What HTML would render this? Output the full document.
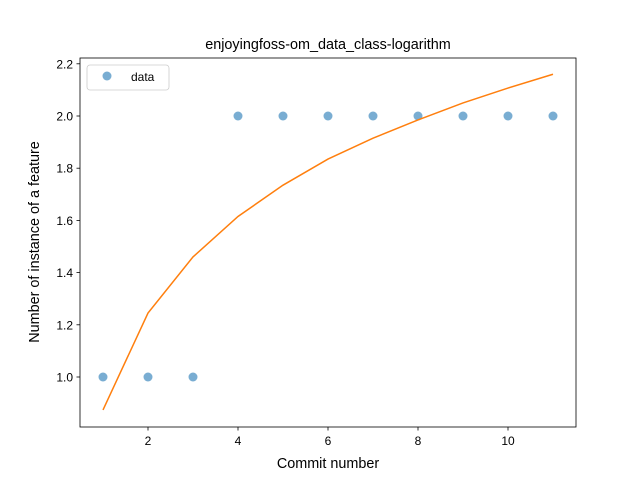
<!DOCTYPE html>
<html><head><meta charset="utf-8"><style>
body{margin:0;background:#fff;}
svg{font-family:"Liberation Sans","DejaVu Sans",sans-serif;}
</style></head><body>
<svg id="chart" width="640" height="480" xmlns="http://www.w3.org/2000/svg">
<rect x="0" y="0" width="640" height="480" fill="#fff"/>
<text x="328" y="49" text-anchor="middle" font-size="14.4">enjoyingfoss-om_data_class-logarithm</text>
<g id="ticks"></g>
<g id="marks"></g>
<rect x="80" y="58" width="496" height="369" fill="none" stroke="#000" stroke-width="0.8"/>
<text x="328" y="468" text-anchor="middle" font-size="14.4">Commit number</text>
<text transform="translate(39,242) rotate(-90)" text-anchor="middle" font-size="14.4">Number of instance of a feature</text>
<g>
<rect x="87" y="65" width="82" height="25" rx="3" fill="#fff" stroke="#ccc" stroke-width="0.8"/>
<circle cx="107" cy="76" r="4.5" fill="#1f77b4" fill-opacity="0.6"/>
<text x="131" y="81" font-size="12">data</text>
</g>
</svg>
<script>
const commits=[1,2,3,4,5,6,7,8,9,10,11];
const dataValues=[1,1,1,2,2,2,2,2,2,2,2];
const fitValues=[0.874,1.245,1.46,1.615,1.735,1.835,1.915,1.985,2.05,2.107,2.16];
const xTicks=[2,4,6,8,10];
const yTicks=[1.0,1.2,1.4,1.6,1.8,2.0,2.2];
const NS="http://www.w3.org/2000/svg";
function xs(v){return 103+(v-1)*45;}
function ys(v){return 377-(v-1)*261;}
const ticks=document.getElementById('ticks'),marks=document.getElementById('marks');
function mk(tag,attrs,parent){const e=document.createElementNS(NS,tag);for(const k in attrs)e.setAttribute(k,attrs[k]);parent.appendChild(e);return e;}
xTicks.forEach(t=>{
 const l=mk('line',{x1:xs(t),x2:xs(t),y1:427,y2:430.5,stroke:'#000','stroke-width':0.8},ticks);
 
 
 const tx=mk('text',{x:xs(t),y:445,'text-anchor':'middle','font-size':12},ticks);tx.textContent=t;
 
 
});
yTicks.forEach(t=>{
 const l=mk('line',{x1:76.5,x2:80,y1:ys(t),y2:ys(t),stroke:'#000','stroke-width':0.8},ticks);
 
 
 const tx=mk('text',{x:73,y:ys(t)+4.5,'text-anchor':'end','font-size':12},ticks);tx.textContent=t.toFixed(1);
 
 
});
commits.forEach((c,i)=>{
 const p=mk('circle',{cx:xs(c),cy:ys(dataValues[i]),r:4.5,fill:'#1f77b4','fill-opacity':0.6},marks);
 
 
});
const line=mk('polyline',{points:commits.map((c,i)=>xs(c)+','+ys(fitValues[i])).join(' '),fill:'none',stroke:'#ff7f0e','stroke-width':1.5},marks);


</script>
</body></html>
